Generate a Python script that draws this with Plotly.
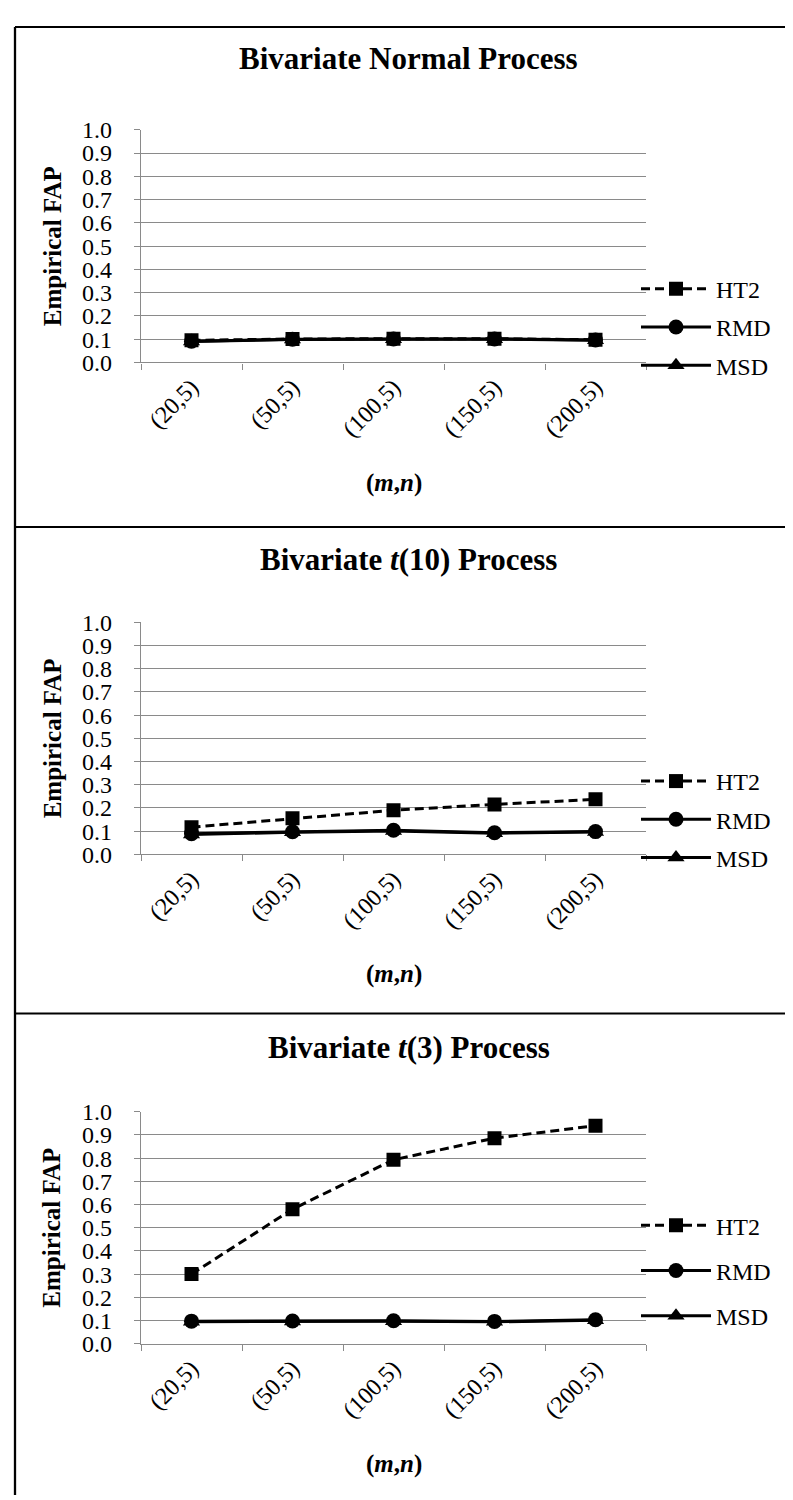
import plotly.graph_objects as go

# ---------------- data ----------------
categories = ["(20,5)", "(50,5)", "(100,5)", "(150,5)", "(200,5)"]
series_names = ["HT2", "RMD", "MSD"]
panel_titles = ["Bivariate Normal Process",
                "Bivariate <i>t</i>(10) Process",
                "Bivariate <i>t</i>(3) Process"]
y_ticks = [0.0, 0.1, 0.2, 0.3, 0.4, 0.5, 0.6, 0.7, 0.8, 0.9, 1.0]

normal_ht2 = [0.095, 0.101, 0.102, 0.102, 0.098]
normal_rmd = [0.091, 0.100, 0.101, 0.101, 0.097]
normal_msd = [0.090, 0.099, 0.100, 0.100, 0.096]

t10_ht2 = [0.117, 0.155, 0.190, 0.215, 0.237]
t10_rmd = [0.089, 0.097, 0.104, 0.093, 0.098]
t10_msd = [0.085, 0.095, 0.101, 0.091, 0.096]

t3_ht2 = [0.300, 0.580, 0.793, 0.886, 0.940]
t3_rmd = [0.097, 0.098, 0.099, 0.096, 0.103]
t3_msd = [0.095, 0.096, 0.097, 0.094, 0.101]

panels = [
    {"HT2": normal_ht2, "RMD": normal_rmd, "MSD": normal_msd},
    {"HT2": t10_ht2, "RMD": t10_rmd, "MSD": t10_msd},
    {"HT2": t3_ht2, "RMD": t3_rmd, "MSD": t3_msd},
]

# ---------------- layout geometry (pixels) ----------------
W, H = 793, 1500
FONT = "Liberation Serif, Times New Roman, serif"
GRAY = "#8a8a8a"

plot_left, plot_right = 133, 638
plot_tops = [110.7, 612, 1110]
plot_bottoms = [347.5, 848, 1346]
title_ys = [38, 548, 1045]
xtitle_ys = [470, 970, 1468]
separators = [6, 515, 1010]
legend_tops = [250, 751, 1203]
legend_gaps = [4, 4, 11]


def px(x):
    return x / W


def py(y):
    return 1 - y / H


styles = {
    "HT2": dict(line=dict(color="black", width=3, dash="9px,5px"),
                marker=dict(symbol="square", size=14, color="black")),
    "RMD": dict(line=dict(color="black", width=3),
                marker=dict(symbol="circle", size=15, color="black")),
    "MSD": dict(line=dict(color="black", width=3),
                marker=dict(symbol="triangle-up", size=15, color="black")),
}
ranks = {"HT2": 1, "RMD": 2, "MSD": 3}

fig = go.Figure()
for i, pdata in enumerate(panels):
    k = "" if i == 0 else str(i + 1)
    for name in ["MSD", "RMD", "HT2"]:
        fig.add_trace(go.Scatter(
            x=categories, y=pdata[name], name=name, mode="lines+markers",
            xaxis="x" + k, yaxis="y" + k,
            legend="legend" + k, legendgroup=name + k, legendrank=ranks[name],
            **styles[name]))

layout = dict(
    width=W, height=H, margin=dict(l=0, r=0, t=0, b=0),
    paper_bgcolor="white", plot_bgcolor="white",
    font=dict(family=FONT, size=24, color="black"),
    showlegend=True,
)

annotations = []
shapes = []
for i in range(3):
    k = "" if i == 0 else str(i + 1)
    layout["xaxis" + k] = dict(
        domain=[px(plot_left), px(plot_right)], anchor="y" + k,
        type="category", range=[-0.5, 4.5], categoryorder="array",
        categoryarray=categories,
        showline=True, linecolor=GRAY, linewidth=1.3,
        ticks="outside", tickson="boundaries", ticklen=6, tickcolor=GRAY,
        tickwidth=1.3, tickangle=-45, showgrid=False, zeroline=False,
        tickfont=dict(family=FONT, size=24, color="black"),
    )
    layout["yaxis" + k] = dict(
        domain=[py(plot_bottoms[i]), py(plot_tops[i])], anchor="x" + k,
        range=[0, 1], tickvals=y_ticks, tickformat=".1f",
        showgrid=True, gridcolor=GRAY, gridwidth=1.3,
        showline=True, linecolor=GRAY, linewidth=1.3,
        ticks="outside", ticklen=6, tickcolor=GRAY, tickwidth=1.3,
        zeroline=False, ticklabelstandoff=17,
        tickfont=dict(family=FONT, size=24, color="black"),
    )
    layout["legend" + k] = dict(
        x=px(628), y=py(legend_tops[i]), xanchor="left", yanchor="top",
        font=dict(family=FONT, size=24, color="black"),
        bgcolor="rgba(0,0,0,0)", itemwidth=70, tracegroupgap=legend_gaps[i],
        traceorder="grouped",
    )
    annotations.append(dict(
        text="<b>" + panel_titles[i] + "</b>", x=px(W / 2 + 4), y=py(title_ys[i]),
        xref="paper", yref="paper", showarrow=False,
        font=dict(family=FONT, size=31, color="black"), xanchor="center",
        yanchor="middle"))
    annotations.append(dict(
        text="<b>Empirical FAP</b>", x=px(44),
        y=py((plot_tops[i] + plot_bottoms[i]) / 2),
        xref="paper", yref="paper", showarrow=False, textangle=-90,
        font=dict(family=FONT, size=25, color="black"), xanchor="center",
        yanchor="middle"))
    annotations.append(dict(
        text="<b>(<i>m</i>,<i>n</i>)</b>", x=px((plot_left + plot_right) / 2),
        y=py(xtitle_ys[i]), xref="paper", yref="paper", showarrow=False,
        font=dict(family=FONT, size=25, color="black"), xanchor="center",
        yanchor="middle"))
    shapes.append(dict(type="line", xref="paper", yref="paper",
                       x0=px(7), x1=1, y0=py(separators[i]),
                       y1=py(separators[i]), line=dict(color="black", width=2)))

shapes.append(dict(type="line", xref="paper", yref="paper", x0=px(7), x1=px(7),
                   y0=py(separators[0]), y1=0, line=dict(color="black", width=2.3)))

layout["annotations"] = annotations
layout["shapes"] = shapes
fig.update_layout(**layout)

fig.write_html("out.html")
